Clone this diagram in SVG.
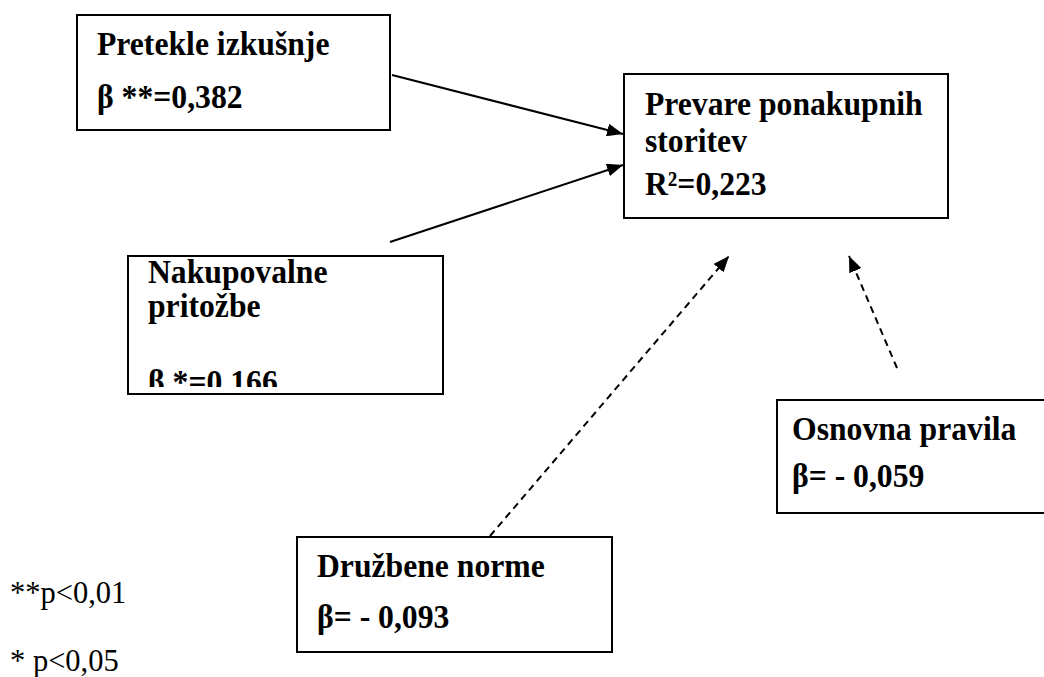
<svg xmlns="http://www.w3.org/2000/svg" width="1044" height="677" viewBox="0 0 1044 677">
<style>
.box{fill:#fff;stroke:#000;stroke-width:2}
.t{font-family:'Liberation Serif','DejaVu Serif',Times,serif;font-weight:bold;font-size:33px;fill:#000}
.n{font-family:'Liberation Serif','DejaVu Serif',Times,serif;font-size:30.5px;fill:#000}
.c{stroke:#000;stroke-width:2;fill:none}
.d{stroke-dasharray:7 5}
</style>
<defs>
<marker id="ah" markerUnits="userSpaceOnUse" markerWidth="17" markerHeight="13" refX="16" refY="6.5" orient="auto">
<path d="M0,0 L16,6.5 L0,13 z" fill="#000"/>
</marker>
<clipPath id="clip3"><rect x="128" y="256" width="315" height="131"/></clipPath>
</defs>
<rect width="1044" height="677" fill="#fff"/>
<g id="connectors">
<line class="c" x1="392" y1="75" x2="623" y2="134" marker-end="url(#ah)"/>
<line class="c" x1="390" y1="242" x2="623" y2="165" marker-end="url(#ah)"/>
<line class="c d" x1="490" y1="536" x2="729" y2="256" marker-end="url(#ah)"/>
<line class="c d" x1="897" y1="368" x2="849" y2="256" marker-end="url(#ah)"/>
</g>
<g id="node-pretekle">
<rect class="box" x="77" y="15" width="313" height="115"/>
<text class="t" transform="translate(97 55) scale(0.96 1)">Pretekle izkušnje</text>
<text class="t" transform="translate(97 108) scale(0.96 1)">β **=0,382</text>
</g>
<g id="node-prevare">
<rect class="box" x="624" y="74" width="324" height="144"/>
<text class="t" transform="translate(645 115) scale(0.96 1)">Prevare ponakupnih</text>
<text class="t" transform="translate(645 152) scale(0.96 1)">storitev</text>
<text class="t" transform="translate(645 195) scale(0.96 1)">R²=0,223</text>
</g>
<g id="node-nakupovalne">
<rect class="box" x="128" y="256" width="315" height="138"/>
<text class="t" transform="translate(148 283) scale(0.96 1)">Nakupovalne</text>
<text class="t" transform="translate(148 317) scale(0.96 1)">pritožbe</text>
<g clip-path="url(#clip3)">
<text class="t" transform="translate(148 393) scale(0.96 1)">β *=0.166</text>
</g>
</g>
<g id="node-osnovna">
<rect class="box" x="777" y="400" width="270" height="113"/>
<text class="t" transform="translate(792 440) scale(0.96 1)">Osnovna pravila</text>
<text class="t" transform="translate(792 487) scale(0.96 1)">β= - 0,059</text>
</g>
<g id="node-druzbene">
<rect class="box" x="297" y="537" width="315" height="115"/>
<text class="t" transform="translate(317 577) scale(0.96 1)">Družbene norme</text>
<text class="t" transform="translate(317 628) scale(0.96 1)">β= - 0,093</text>
</g>
<g id="legend">
<text class="n" x="10" y="603">**p&lt;0,01</text>
<text class="n" x="10" y="671">* p&lt;0,05</text>
</g>
</svg>
